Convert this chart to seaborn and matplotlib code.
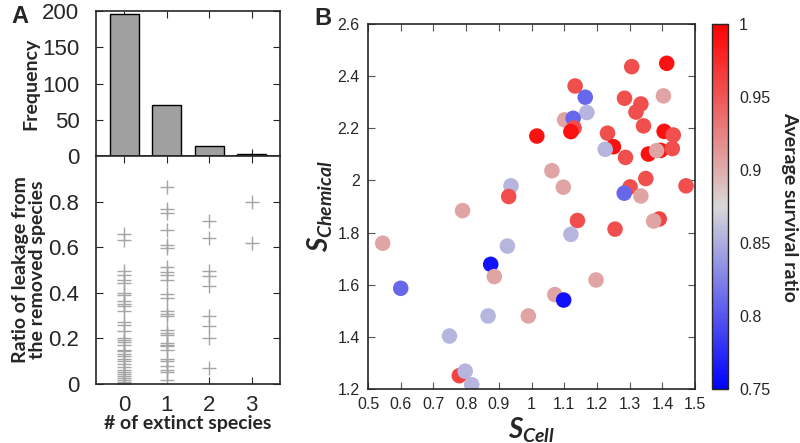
import numpy as np
import matplotlib
matplotlib.use('Agg')

import matplotlib.pyplot as plt
import seaborn as sns
import pandas as pd
from matplotlib.colors import LinearSegmentedColormap, Normalize
from matplotlib.cm import ScalarMappable

# Panel A: histogram of extinct species
n_extinct = [0, 1, 2, 3]
freq_counts = [196, 71, 14, 2]

# Panel A lower: leakage ratio from the removed species per # of extinct species
leak_0 = [0.656, 0.631, 0.494, 0.476, 0.458, 0.444, 0.400, 0.392, 0.363, 0.353,
          0.341, 0.319, 0.271, 0.261, 0.231, 0.202, 0.195, 0.183, 0.173, 0.151,
          0.143, 0.133, 0.121, 0.110, 0.099, 0.089, 0.077, 0.063, 0.055, 0.045,
          0.036, 0.026, 0.019, 0.011, 0.004, 0.0]
leak_1 = [0.866, 0.766, 0.751, 0.675, 0.608, 0.598, 0.514, 0.491, 0.476, 0.458,
          0.397, 0.378, 0.319, 0.309, 0.297, 0.238, 0.226, 0.217, 0.180, 0.173,
          0.165, 0.151, 0.110, 0.099, 0.080, 0.063, 0.051, 0.019]
leak_2 = [0.715, 0.642, 0.494, 0.473, 0.429, 0.300, 0.253, 0.200, 0.070]
leak_3 = [0.800, 0.620]

# Panel B: S_Cell vs S_Chemical, colour = average survival ratio
s_cell = [1.306, 1.413, 1.133, 1.164, 1.284, 1.334, 1.403, 1.319, 1.169, 1.101,
          1.127, 1.130, 1.120, 1.342, 1.016, 1.405, 1.433, 1.232, 1.250, 1.225,
          1.287, 1.357, 1.394, 1.382, 1.430, 1.062, 1.097, 1.349, 1.301, 1.283,
          1.334, 1.472, 1.140, 1.390, 1.373, 1.120, 1.255, 1.197, 1.071, 1.098,
          0.990, 0.937, 0.930, 0.789, 0.545, 0.926, 0.875, 0.886, 0.600, 0.867,
          0.749, 0.779, 0.797, 0.817]
s_chem = [2.436, 2.449, 2.362, 2.319, 2.315, 2.293, 2.324, 2.262, 2.260, 2.232,
          2.238, 2.201, 2.187, 2.209, 2.170, 2.188, 2.174, 2.181, 2.129, 2.119,
          2.088, 2.101, 2.115, 2.114, 2.122, 2.037, 1.974, 2.007, 1.975, 1.951,
          1.940, 1.979, 1.846, 1.852, 1.844, 1.793, 1.813, 1.618, 1.562, 1.541,
          1.480, 1.979, 1.938, 1.884, 1.759, 1.748, 1.678, 1.631, 1.586, 1.480,
          1.403, 1.251, 1.268, 1.216]
survival = [0.955, 0.990, 0.955, 0.810, 0.955, 0.955, 0.905, 0.955, 0.855, 0.905,
            0.810, 0.955, 0.990, 0.955, 0.990, 0.990, 0.955, 0.955, 0.990, 0.855,
            0.955, 0.990, 0.990, 0.905, 0.955, 0.905, 0.905, 0.955, 0.955, 0.810,
            0.905, 0.955, 0.955, 0.960, 0.905, 0.855, 0.955, 0.905, 0.905, 0.760,
            0.905, 0.855, 0.955, 0.905, 0.905, 0.855, 0.760, 0.905, 0.810, 0.855,
            0.855, 0.960, 0.855, 0.855]

sns.set_style("ticks")
plt.rcParams['font.family'] = ['Liberation Sans', 'DejaVu Sans']
plt.rcParams['mathtext.fontset'] = 'custom'
plt.rcParams['mathtext.it'] = 'Lato:italic:bold'
plt.rcParams['mathtext.rm'] = 'Lato:bold'
plt.rcParams['axes.linewidth'] = 1.2

label_font = dict(family='Lato', fontweight='bold', fontsize=14)

fig = plt.figure(figsize=(8, 4.43), dpi=100)
ax_hist = fig.add_axes([0.12, 0.648, 0.23, 0.327])
ax_leak = fig.add_axes([0.12, 0.133, 0.23, 0.515])
ax_b = fig.add_axes([0.46, 0.122, 0.409, 0.824])
ax_cb = fig.add_axes([0.89, 0.122, 0.02, 0.824])

# ---- Panel A top: histogram
sns.barplot(x=n_extinct, y=freq_counts, color='#a0a0a0', saturation=1,
            edgecolor='black', linewidth=1, width=0.69, ax=ax_hist)
ax_hist.set_xlim(-0.67, 3.67)
ax_hist.set_ylim(0, 200)
ax_hist.set_yticks([0, 50, 100, 150, 200])
ax_hist.set_xticks(n_extinct)
ax_hist.set_xticklabels([])
ax_hist.set_ylabel('Frequency', labelpad=2, **label_font)
ax_hist.tick_params(direction='in', top=True, right=True, labelsize=16, length=5, pad=12)

# ---- Panel A bottom: leakage ratio
leak_df = pd.DataFrame({
    'extinct': [0] * len(leak_0) + [1] * len(leak_1) + [2] * len(leak_2) + [3] * len(leak_3),
    'ratio': leak_0 + leak_1 + leak_2 + leak_3,
})
sns.scatterplot(data=leak_df, x='extinct', y='ratio', marker='+', color='#a5a5a5',
                s=90, linewidth=1, ax=ax_leak, legend=False)
ax_leak.set_xlim(-0.67, 3.67)
ax_leak.set_ylim(0, 1.0)
ax_leak.set_yticks([0, 0.2, 0.4, 0.6, 0.8])
ax_leak.set_yticklabels(['0', '0.2', '0.4', '0.6', '0.8'])
ax_leak.set_xticks(n_extinct)
ax_leak.set_xlabel('# of extinct species', labelpad=-1, **label_font)
ax_leak.set_ylabel('Ratio of leakage from\nthe removed species', linespacing=1.0,
                   labelpad=2, **label_font)
ax_leak.tick_params(direction='in', top=True, right=True, labelsize=16, length=5, pad=12)
ax_leak.tick_params(axis='x', pad=8)

# ---- Panel B: scatter coloured by survival ratio
cmap = LinearSegmentedColormap.from_list('bgr', ['#0000ff', '#d8d8d8', '#ff0000'])
norm = Normalize(vmin=0.75, vmax=1.0)
sns.scatterplot(x=s_cell, y=s_chem, hue=survival, palette=cmap, hue_norm=norm,
                s=125, linewidth=0, legend=False, ax=ax_b)
ax_b.set_xlim(0.5, 1.5)
ax_b.set_ylim(1.2, 2.6)
ax_b.set_xticks(np.arange(0.5, 1.51, 0.1))
ax_b.set_xticklabels(['0.5', '0.6', '0.7', '0.8', '0.9', '1', '1.1', '1.2', '1.3', '1.4', '1.5'])
ax_b.set_yticks(np.arange(1.2, 2.61, 0.2))
ax_b.set_yticklabels(['1.2', '1.4', '1.6', '1.8', '2', '2.2', '2.4', '2.6'])
ax_b.tick_params(direction='in', top=True, right=True, labelsize=11.5, length=5,
                 color='#555555', pad=6)
ax_b.set_xlabel(r'$S_{Cell}$', fontsize=20, labelpad=2)
ax_b.set_ylabel(r'$S_{Chemical}$', fontsize=20, labelpad=2)

sm = ScalarMappable(norm=norm, cmap=cmap)
cb = fig.colorbar(sm, cax=ax_cb)
cb.set_ticks([0.75, 0.8, 0.85, 0.9, 0.95, 1.0])
cb.set_ticklabels(['0.75', '0.8', '0.85', '0.9', '0.95', '1'])
cb.outline.set_linewidth(1)
ax_cb.tick_params(direction='in', left=True, labelsize=11.5, length=4, color='#333333', pad=8)
cb.set_label('Average survival ratio', rotation=270, labelpad=20, **label_font)

fig.text(0.014, 0.988, 'A', fontsize=17, fontweight='bold', va='top')
fig.text(0.393, 0.984, 'B', fontsize=17, fontweight='bold', va='top')

fig.savefig('out.png', dpi=100)
